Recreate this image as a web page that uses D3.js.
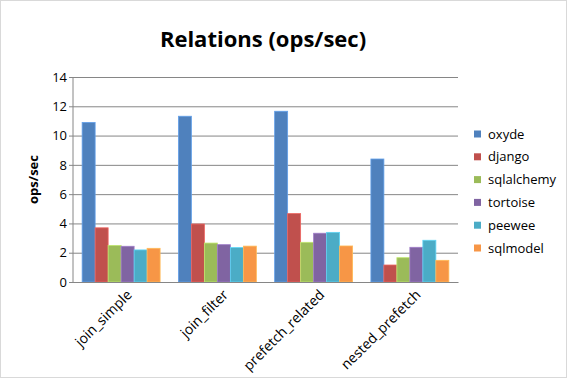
<!DOCTYPE html>
<meta charset='utf-8'>
<style>
body { margin: 0; background: #fff; }
text { font-family: 'Open Sans', 'Noto Sans', sans-serif; fill: #000; }
</style>
<div id='chart'></div>
<script src='https://cdn.jsdelivr.net/npm/d3@7'></script>
<script>
  var categories = ['join_simple', 'join_filter', 'prefetch_related', 'nested_prefetch'];
  var series = ['oxyde', 'django', 'sqlalchemy', 'tortoise', 'peewee', 'sqlmodel'];
  var oxyde      = [10.9, 11.32, 11.66, 8.4];
  var django     = [3.7, 3.96, 4.67, 1.16];
  var sqlalchemy = [2.5, 2.66, 2.71, 1.66];
  var tortoise   = [2.44, 2.55, 3.33, 2.37];
  var peewee     = [2.19, 2.35, 3.39, 2.85];
  var sqlmodel   = [2.3, 2.45, 2.46, 1.48];
  var yTicks = [0, 2, 4, 6, 8, 10, 12, 14];
  var colors = ['#4F81BD', '#C0504D', '#9BBB59', '#8064A2', '#4BACC6', '#F79646'];

  var values = [oxyde, django, sqlalchemy, tortoise, peewee, sqlmodel];
  var rows = [];
  categories.forEach(function(c, i) {
    series.forEach(function(s, j) {
      rows.push({cat: c, series: s, value: values[j][i]});
    });
  });

  var W = 567, H = 378;
  var margin = {top: 77, left: 73, right: 109, bottom: 96};
  var width = W - margin.left - margin.right,
      height = H - margin.top - margin.bottom;

  var svg = d3.select('#chart').append('svg')
      .attr('width', W).attr('height', H);

  svg.append('rect')
    .attr('x', 0.5).attr('y', 0.5)
    .attr('width', W - 1).attr('height', H - 1)
    .attr('fill', '#fff').attr('stroke', '#d9d9d9');

  svg.append('text')
    .attr('x', 263).attr('y', 47)
    .attr('text-anchor', 'middle')
    .style('font-size', '22px').style('font-weight', 'bold')
    .text('Relations (ops/sec)');

  var g = svg.append('g')
    .attr('transform', 'translate(' + margin.left + ',' + margin.top + ')');

  var x0 = d3.scaleBand().domain(categories).range([0, width]).paddingInner(0.19).paddingOuter(0.095);
  var x1 = d3.scaleBand().domain(series).range([0, x0.bandwidth()]);
  var y = d3.scaleLinear().domain([0, 14]).range([height, 0]);
  var color = d3.scaleOrdinal().domain(series).range(colors);

  // gridlines + y axis
  var yAxis = g.append('g')
    .call(d3.axisLeft(y).tickValues(yTicks).tickSize(-width).tickSizeOuter(0).tickPadding(6));
  yAxis.select('.domain').remove();
  yAxis.selectAll('line').attr('stroke', '#868686').attr('x1', -4);
  yAxis.selectAll('text').style('font-size', '13px');

  g.append('line')
    .attr('x1', 0).attr('x2', 0).attr('y1', 0).attr('y2', height)
    .attr('stroke', '#868686');

  g.append('g').selectAll('rect')
    .data(rows)
    .enter().append('rect')
      .attr('x', function(d) { return x0(d.cat) + x1(d.series); })
      .attr('y', function(d) { return y(d.value); })
      .attr('width', x1.bandwidth())
      .attr('height', function(d) { return height - y(d.value); })
      .attr('fill', function(d) { return color(d.series); })
      .attr('stroke', function(d) { return d3.color(color(d.series)).brighter(0.6); })
      .attr('stroke-width', 0.8);

  var xAxis = g.append('g')
    .attr('transform', 'translate(0,' + height + ')')
    .call(d3.axisBottom(x0).tickSize(0).tickPadding(8));
  xAxis.select('.domain').attr('stroke', '#868686');
  xAxis.selectAll('text')
    .style('font-size', '14px')
    .attr('text-anchor', 'end')
    .attr('dy', '0.3em')
    .attr('transform', 'translate(3,5) rotate(-45)');

  svg.append('text')
    .attr('transform', 'translate(38,' + (margin.top + height / 2) + ') rotate(-90)')
    .attr('text-anchor', 'middle')
    .style('font-size', '13px').style('font-weight', 'bold')
    .text('ops/sec');

  var legend = svg.selectAll('.legend')
    .data(series)
    .enter().append('g')
      .attr('class', 'legend')
      .attr('transform', function(d, i) { return 'translate(474,' + (134 + i * 22.8) + ')'; });
  legend.append('rect')
    .attr('x', 0).attr('y', -3.5).attr('width', 7).attr('height', 7)
    .attr('fill', color);
  legend.append('text')
    .attr('x', 14).attr('dy', '0.35em')
    .style('font-size', '13px')
    .text(function(d) { return d; });
</script>
